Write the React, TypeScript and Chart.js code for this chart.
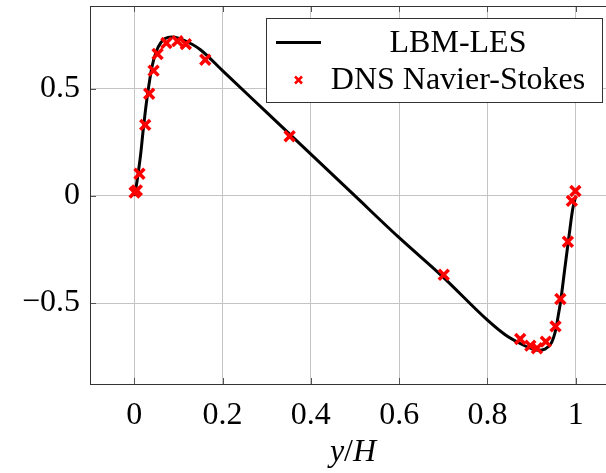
import React, { useEffect, useRef } from 'react';
import { Chart, registerables } from 'chart.js';

Chart.register(...registerables);

// LBM-LES profile (solid black line)
const lesX = [0, 0.005, 0.01, 0.015, 0.02, 0.025, 0.03, 0.04, 0.05, 0.06, 0.07, 0.085, 0.1, 0.12, 0.15, 0.2, 0.3, 0.4, 0.5, 0.6, 0.7, 0.8, 0.84, 0.875, 0.9, 0.915, 0.93, 0.945, 0.955, 0.96, 0.965, 0.975, 0.985, 0.993, 1.0];
const lesY = [0.0, 0.05, 0.12, 0.2, 0.3, 0.39, 0.47, 0.6, 0.675, 0.715, 0.735, 0.742, 0.737, 0.72, 0.683, 0.585, 0.39, 0.195, 0.0, -0.195, -0.38, -0.58, -0.648, -0.69, -0.713, -0.72, -0.715, -0.685, -0.62, -0.56, -0.5, -0.34, -0.18, -0.06, 0.0];

// DNS Navier-Stokes reference (red crosses)
const dnsX = [0.001, 0.006, 0.012, 0.025, 0.034, 0.044, 0.053, 0.073, 0.098, 0.117, 0.161, 0.352, 0.701, 0.874, 0.897, 0.912, 0.932, 0.954, 0.965, 0.982, 0.991, 0.999];
const dnsY = [0.016, 0.026, 0.104, 0.332, 0.477, 0.585, 0.663, 0.714, 0.723, 0.709, 0.636, 0.279, -0.368, -0.668, -0.699, -0.711, -0.68, -0.609, -0.481, -0.214, -0.023, 0.023];

const xTicks = [0, 0.2, 0.4, 0.6, 0.8, 1];
const xTickLabels = ['0', '0.2', '0.4', '0.6', '0.8', '1'];
const yTicks = [-0.5, 0, 0.5];
const yTickLabels = ['\u22120.5', '0', '0.5'];
const seriesNames = ['LBM-LES', 'DNS Navier-Stokes'];
const xTitleParts = ['y', '/', 'H'];

const FONT = '"Liberation Serif", "Times New Roman", serif';

const overlay = {
  id: 'overlay',
  afterDraw(chart: any) {
    const { ctx, chartArea: a } = chart;
    const xs = chart.scales.x;
    const ys = chart.scales.y;
    ctx.save();
    // inner tick marks
    ctx.strokeStyle = '#555';
    ctx.lineWidth = 1;
    ctx.beginPath();
    for (const v of xTicks) {
      const p = Math.round(xs.getPixelForValue(v)) + 0.5;
      ctx.moveTo(p, a.bottom); ctx.lineTo(p, a.bottom - 6);
      ctx.moveTo(p, a.top); ctx.lineTo(p, a.top + 6);
    }
    for (const v of yTicks) {
      const p = Math.round(ys.getPixelForValue(v)) + 0.5;
      ctx.moveTo(a.left, p); ctx.lineTo(a.left + 6, p);
      ctx.moveTo(a.right, p); ctx.lineTo(a.right - 6, p);
    }
    ctx.stroke();
    // frame
    ctx.strokeStyle = '#333';
    ctx.strokeRect(Math.round(a.left) + 0.5, Math.round(a.top) + 0.5, Math.round(a.right - a.left), Math.round(a.bottom - a.top));

    // x axis title y/H (math italic)
    ctx.fillStyle = '#000';
    ctx.textBaseline = 'alphabetic';
    ctx.textAlign = 'left';
    const fonts = [`italic 32px ${FONT}`, `32px ${FONT}`, `italic 32px ${FONT}`];
    let total = 0;
    const widths: number[] = [];
    xTitleParts.forEach((t, i) => { ctx.font = fonts[i]; const w = ctx.measureText(t).width; widths.push(w); total += w; });
    let tx = 353 - total / 2;
    xTitleParts.forEach((t, i) => { ctx.font = fonts[i]; ctx.fillText(t, tx, 461); tx += widths[i]; });

    // legend
    ctx.fillStyle = '#fff';
    ctx.fillRect(266.5, 18.5, 336, 84);
    ctx.strokeStyle = '#333';
    ctx.lineWidth = 1;
    ctx.strokeRect(266.5, 18.5, 336, 84);
    ctx.strokeStyle = '#000';
    ctx.lineWidth = 3;
    ctx.beginPath();
    ctx.moveTo(276, 42.5); ctx.lineTo(321, 42.5);
    ctx.stroke();
    ctx.strokeStyle = '#ff0000';
    ctx.lineWidth = 2.5;
    ctx.beginPath();
    const cx = 298.5, cy = 80, r = 3.5;
    ctx.moveTo(cx - r, cy - r); ctx.lineTo(cx + r, cy + r);
    ctx.moveTo(cx - r, cy + r); ctx.lineTo(cx + r, cy - r);
    ctx.stroke();
    ctx.fillStyle = '#000';
    ctx.font = `32px ${FONT}`;
    ctx.textAlign = 'center';
    ctx.fillText(seriesNames[0], 458, 52);
    ctx.fillText(seriesNames[1], 458, 89);
    ctx.restore();
  },
};

export default function App() {
  const ref = useRef<HTMLCanvasElement>(null);
  useEffect(() => {
    if (!ref.current) return;
    const chart = new Chart(ref.current, {
      type: 'line',
      data: {
        datasets: [
          {
            label: seriesNames[1],
            data: dnsX.map((x, i) => ({ x, y: dnsY[i] })),
            showLine: false,
            pointStyle: 'crossRot',
            pointRadius: 7,
            pointBorderWidth: 3.5,
            borderColor: '#ff0000',
            backgroundColor: '#ff0000',
            order: 1,
          },
          {
            label: seriesNames[0],
            data: lesX.map((x, i) => ({ x, y: lesY[i] })),
            borderColor: '#000',
            borderWidth: 3,
            pointRadius: 0,
            fill: false,
            cubicInterpolationMode: 'monotone',
            order: 2,
          },
        ],
      },
      options: {
        animation: false,
        responsive: false,
        maintainAspectRatio: false,
        layout: { autoPadding: false, padding: { top: 6, right: 20, left: 0, bottom: 0 } },
        plugins: { legend: { display: false }, tooltip: { enabled: false } },
        scales: {
          x: {
            type: 'linear',
            min: -0.1,
            max: 1.1,
            afterBuildTicks: (s: any) => { s.ticks = xTicks.map((v) => ({ value: v })); },
            afterFit: (s: any) => { s.height = 89; s.paddingLeft = 0; s.paddingRight = 0; },
            ticks: {
              color: '#000',
              font: { family: FONT, size: 32 },
              padding: 12,
              maxRotation: 0,
              autoSkip: false,
              callback: (v: any) => xTickLabels[xTicks.indexOf(Number(v))] ?? '',
            },
            grid: { color: '#c4c4c4', lineWidth: 1, drawTicks: false },
            border: { display: false },
          },
          y: {
            type: 'linear',
            min: -0.878,
            max: 0.887,
            afterBuildTicks: (s: any) => { s.ticks = yTicks.map((v) => ({ value: v })); },
            afterFit: (s: any) => { s.width = 90; s.paddingTop = 0; s.paddingBottom = 0; },
            ticks: {
              color: '#000',
              font: { family: FONT, size: 32 },
              padding: 10,
              autoSkip: false,
              callback: (v: any) => yTickLabels[yTicks.indexOf(Number(v))] ?? '',
            },
            grid: { color: '#c4c4c4', lineWidth: 1, drawTicks: false },
            border: { display: false },
          },
        },
      },
      plugins: [overlay],
    } as any);
    return () => chart.destroy();
  }, []);
  return (
    <div style={{ position: 'fixed', left: 0, top: 0, width: 606, height: 473, overflow: 'hidden', background: '#fff' }}>
      <canvas ref={ref} width={640} height={473} style={{ width: 640, height: 473, display: 'block' }} />
    </div>
  );
}
